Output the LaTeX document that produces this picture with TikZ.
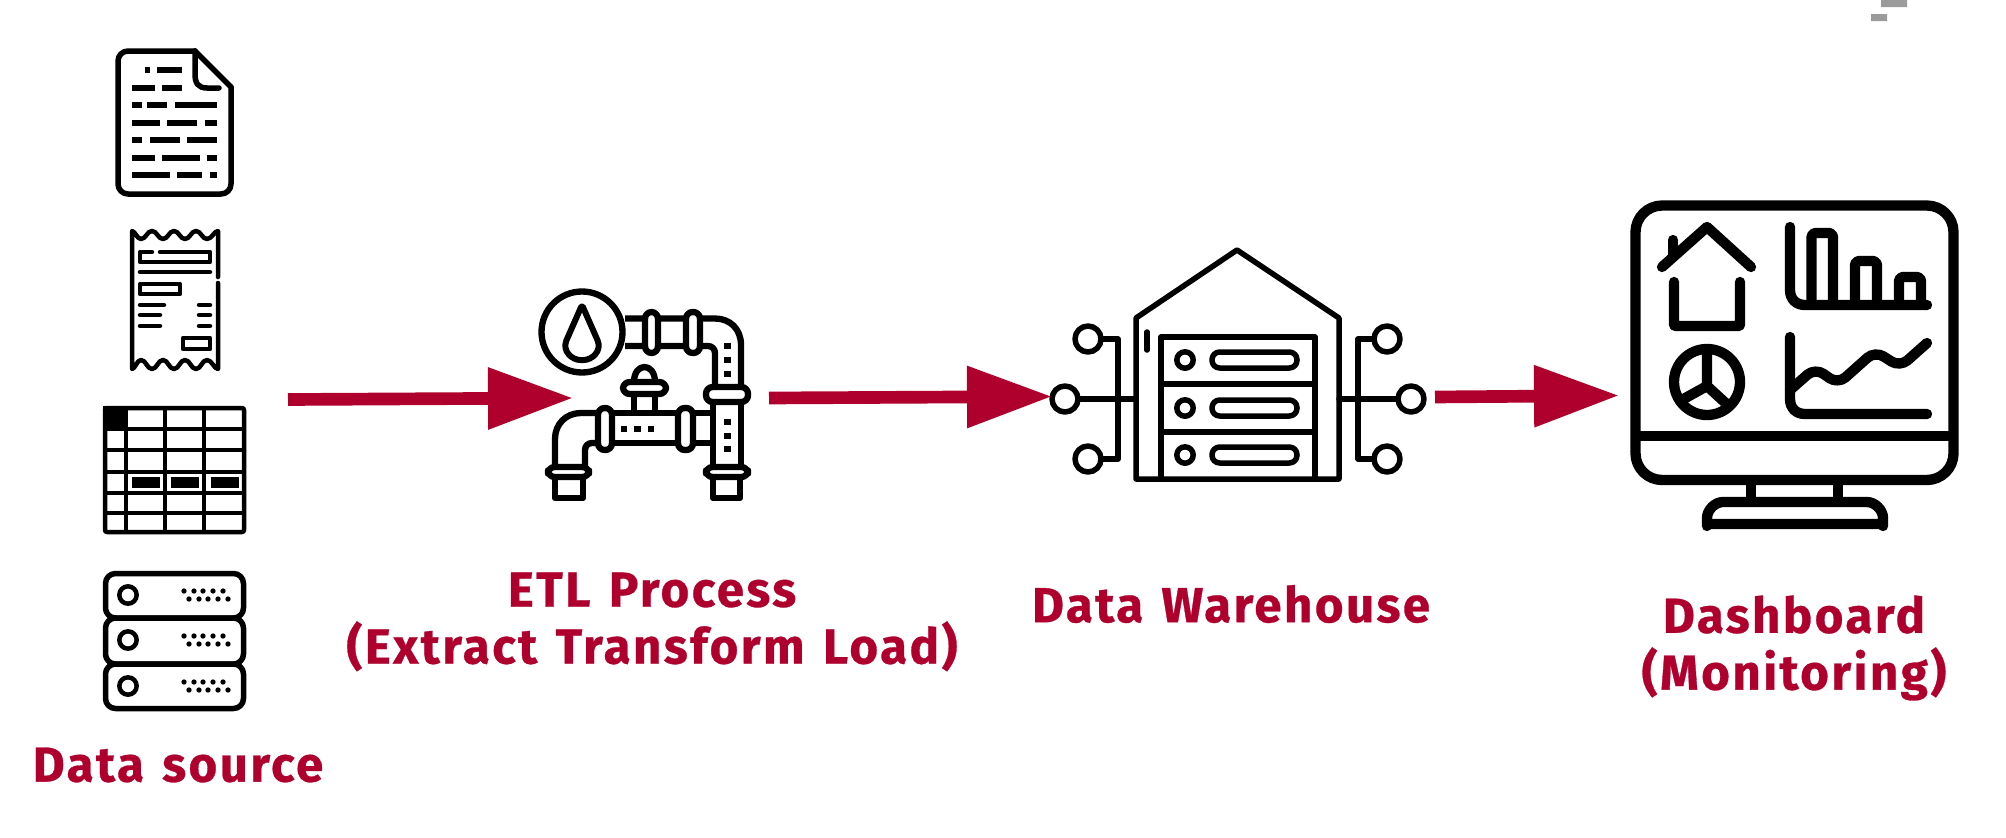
\documentclass[tikz,border=0pt]{standalone}
\usepackage{fontspec}
\setmainfont{Fira Sans}
\newfontfamily\lblfont[LetterSpace=5,WordSpace=1.3,BoldFeatures={FakeBold=0.6}]{Fira Sans}
\usetikzlibrary{arrows.meta}
\definecolor{crim}{HTML}{AF002D}
\definecolor{gry}{HTML}{9B9B9B}
\newcommand{\dashrow}[2]{\foreach \a/\b in {#2}{\draw[icon5,line cap=butt] (\a,#1) -- (\b,#1);}}
\tikzset{
  x=0.03cm,y=-0.03cm,
  every path/.style={line join=round},
  icon4/.style={draw=black,line width=0.135cm,line cap=round},
  icon5/.style={draw=black,line width=0.165cm,line cap=round},
  icon10/.style={draw=black,line width=0.31cm,line cap=round},
  pipe/.style={draw=black,line width=0.19cm,line cap=butt},
  flange/.style={draw=black,fill=white,line width=0.19cm,rounded corners=0.2cm},
  flow/.style={draw=crim,line width=0.38cm,-{Triangle[length=2.55cm,width=1.77cm,fill=crim]},shorten >=0pt},
  lbl/.style={text=crim,font=\lblfont\fontsize{42}{48.5}\selectfont\bfseries,align=center,inner sep=0pt},
}
\begin{document}
\begin{tikzpicture}
\useasboundingbox (0,0) rectangle (2006,838);
% grey remnant
\fill[gry] (1881,0) rectangle (1907,7) (1871,14) rectangle (1887,21);
% document
\draw[icon5,rounded corners=0.3cm] (195,51) -- (118,51) -- (118,194) -- (231,194) -- (231,87);
\draw[icon5] (195,51) -- (231,87);
\draw[icon5] (195,51) -- (195,74) .. controls (195,83) and (198,88) .. (207,88) -- (219,88);
\dashrow{70}{145/150,157/182}
\dashrow{88}{132/155,162/182}
\dashrow{105}{132/142,147/167,175/217}
\dashrow{123}{132/160,167/197,205/217}
\dashrow{140}{132/142,150/180,187/217}
\dashrow{158}{132/155,162/200,207/217}
\dashrow{175}{132/170,177/202,210/217}
% receipt
\draw[icon4] (218,277) -- (218,231) .. controls (214,231) and (212,239) .. (207,239) .. controls (202,239) and (201,231) .. (196,231) .. controls (191,231) and (190,239) .. (185,239) .. controls (180,239) and (179,231) .. (174,231) .. controls (169,231) and (168,239) .. (163,239) .. controls (158,239) and (157,231) .. (152,231) .. controls (147,231) and (146,239) .. (141,239) .. controls (137,239) and (135,231) .. (132,231) -- (132,369) .. controls (135,369) and (137,360) .. (141,360) .. controls (146,360) and (147,369) .. (152,369) .. controls (157,369) and (158,360) .. (163,360) .. controls (168,360) and (169,369) .. (174,369) .. controls (179,369) and (180,360) .. (185,360) .. controls (190,360) and (191,369) .. (196,369) .. controls (201,369) and (202,360) .. (207,360) .. controls (212,360) and (214,369) .. (218,369) -- (218,283);
\draw[icon4] (152,252) -- (140,252) -- (140,262) -- (210,262) -- (210,252) -- (160,252);
\draw[icon4] (140,272) -- (210,272);
\draw[icon4] (140,284) rectangle (180,294);
\draw[icon4] (140,305) -- (164,305) (199,305) -- (210,305);
\draw[icon4] (140,315) -- (160,315) (199,315) -- (210,315);
\draw[icon4] (140,326) -- (160,326) (199,326) -- (210,326);
\draw[icon4] (183,338) rectangle (210,349);
% table
\draw[icon4,line cap=butt,rounded corners=0.06cm] (105,408) rectangle (244,532);
\foreach \xx in {126,165,204}{\draw[icon4,line cap=butt] (\xx,408) -- (\xx,532);}
\foreach \yy in {429,450,472,493,513}{\draw[icon4,line cap=butt] (105,\yy) -- (244,\yy);}
\fill (103,406) rectangle (128,431);
\foreach \xa/\xb in {132/160,171/199,211/239}{\fill (\xa,477) rectangle (\xb,488);}
% server stack
\foreach \ya/\yb/\ym in {573.5/618/595,618/664/640,664/708.5/686}{
  \draw[icon5,rounded corners=0.3cm] (105.5,\ya) rectangle (243.5,\yb);
  \draw[line width=0.135cm] (128,\ym) circle[radius=0.26cm];
  \foreach \dx in {184,194,203,213,223}{\fill (\dx,\ym-4) circle[radius=0.08cm];}
  \foreach \dx in {189,199,208,218,228}{\fill (\dx,\ym+4) circle[radius=0.08cm];}
}
% ETL icon: upper pipe
\draw[pipe] (625,318.5) -- (715,318.5) .. controls (730,318.5) and (741,329) .. (741,345) -- (741,390);
\draw[pipe] (625,346) -- (708,346) .. controls (712,346) and (715,349) .. (715,353) -- (715,390);
\draw[pipe,fill=white] (582,332) circle[radius=40.5];
\draw[line width=0.18cm,rounded corners=0.05cm] (582,305) -- (567,339) .. controls (562,351) and (572,360) .. (582,360) .. controls (592,360) and (602,351) .. (597,339) -- cycle;
\draw[flange] (645,312) rectangle (658,353);
\draw[flange] (686,312) rectangle (700,353);
\foreach \yy in {346,360,374,422,436,449}{\fill (723.5,\yy-3.2) rectangle (730.5,\yy+3.2);}
% lower pipe
\draw[pipe] (713,400) -- (713,467) (741,400) -- (741,467);
\draw[pipe] (600,413) -- (713,413) (600,443) -- (713,443);
\draw[pipe] (596,413) -- (581,413) .. controls (566,413) and (555,424) .. (555,439) -- (555,467);
\draw[pipe] (596,443) -- (592,443) .. controls (588,443) and (585,446) .. (585,450) -- (585,467);
\draw[pipe] (634,397) -- (634,413) (655,397) -- (655,413);
\draw[line width=0.19cm] (634,382) .. controls (634,362) and (655,362) .. (655,382);
\draw[flange] (623,382) rectangle (666,394);
\draw[flange] (706,387) rectangle (748,402);
\draw[flange] (598,408) rectangle (612,450);
\draw[flange] (678,408) rectangle (693,450);
\foreach \xx in {624,637.5,651}{\fill (\xx-3.3,425.7) rectangle (\xx+3.3,432.3);}
\draw[pipe] (555,477) -- (555,498) -- (583,498) -- (583,477);
\draw[pipe] (713,477) -- (713,498) -- (740,498) -- (740,477);
\draw[flange] (548,467) rectangle (589,477);
\draw[flange] (706,467) rectangle (748,477);
% warehouse
\draw[icon5] (1136,479) -- (1136,318) -- (1237,250) -- (1339,318) -- (1339,479) -- cycle;
\draw[icon5] (1147,332) -- (1147,350);
\draw[icon5] (1161,479) -- (1161,337) -- (1315,337) -- (1315,479);
\draw[icon5] (1161,384) -- (1315,384) (1161,432) -- (1315,432);
\foreach \ym in {360,408,455}{
  \draw[icon5] (1185,\ym) circle[radius=8.2];
  \draw[icon5,rounded corners=0.23cm] (1212,\ym-8) rectangle (1297,\ym+8);
}
\draw[icon5] (1101,339) -- (1118,339) -- (1118,459) -- (1101,459);
\draw[icon5] (1078,399) -- (1136,399);
\draw[icon5] (1374,339) -- (1358,339) -- (1358,459) -- (1374,459);
\draw[icon5] (1339,399) -- (1398,399);
\foreach \cx/\cy in {1088/339,1065/399,1088/459,1387/339,1411/399,1387/459}{\draw[icon5,fill=white] (\cx,\cy) circle[radius=13];}
% dashboard
\draw[icon10,rounded corners=0.8cm] (1635.5,205.5) rectangle (1953.5,480);
\draw[icon10,line cap=butt] (1635.5,436) -- (1953.5,436);
\draw[icon10,line cap=butt] (1751,485) -- (1751,500) (1838,485) -- (1838,500);
\draw[icon10,rounded corners=0.12cm] (1707,524) -- (1707,522) .. controls (1707,510) and (1715,502) .. (1727,502) -- (1863,502) .. controls (1875,502) and (1883,510) .. (1883,522) -- (1883,524) -- cycle;
\draw[icon10] (1662,267) -- (1707,227) -- (1751,267);
\draw[icon10] (1673,240) -- (1673,255);
\draw[icon10,rounded corners=0.03cm] (1674,282) -- (1674,326) -- (1740,326) -- (1740,282);
\draw[icon10] (1707,382) circle[radius=33];
\draw[icon10,line cap=butt] (1707,351) -- (1707,386) -- (1680,401) (1707,386) -- (1731,408);
\draw[icon10] (1790,227) -- (1790,290) .. controls (1790,299) and (1796,305) .. (1805,305) -- (1927,305);
\draw[icon10,rounded corners=0.12cm,line cap=butt] (1811.5,305) -- (1811.5,233) -- (1833,233) -- (1833,305);
\draw[icon10,rounded corners=0.12cm,line cap=butt] (1855,305) -- (1855,261) -- (1877,261) -- (1877,305);
\draw[icon10,rounded corners=0.12cm,line cap=butt] (1899,305) -- (1899,277) -- (1921,277) -- (1921,305);
\draw[icon10] (1790,337) -- (1790,399) .. controls (1790,408) and (1796,414) .. (1805,414) -- (1927,414);
\draw[icon10,rounded corners=0.3cm] (1790,390) -- (1815,368) -- (1838,384) -- (1875,351) -- (1900,367) -- (1927,343);
% connectors
\coordinate (a1s) at (288,399.5); \coordinate (a1e) at (573,398);
\coordinate (a2s) at (769,398); \coordinate (a2e) at (1052,396.5);
\coordinate (a3s) at (1435,397); \coordinate (a3e) at (1619,395.5);
\draw[flow] (a1s) -- (a1e);
\draw[flow] (a2s) -- (a2e);
\draw[flow] (a3s) -- (a3e);
% labels
\node[lbl] (src) at (178,765) {Data source};
\node[lbl] (etl) at (652,622) {ETL Process\\(Extract Transform Load)};
\node[lbl] (dw) at (1231,604) {Data Warehouse};
\node[lbl] (dash) at (1794,648) {Dashboard\\(Monitoring)};
\end{tikzpicture}
\end{document}
